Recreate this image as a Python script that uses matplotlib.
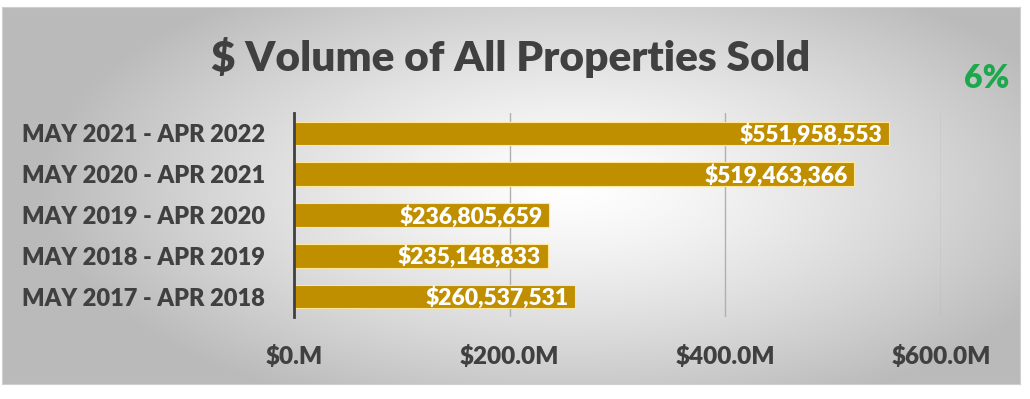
import numpy as np
import matplotlib
matplotlib.use("Agg")
import matplotlib.pyplot as plt

# data
periods = ["MAY 2017 - APR 2018", "MAY 2018 - APR 2019", "MAY 2019 - APR 2020",
           "MAY 2020 - APR 2021", "MAY 2021 - APR 2022"]
volumes = [260537531, 235148833, 236805659, 519463366, 551958553]
ticks = [0, 200e6, 400e6, 600e6]
tick_labels = ["$0.M", "$200.0M", "$400.0M", "$600.0M"]
change = "6%"

plt.rcParams['font.family'] = ['Lato', 'DejaVu Sans']
dark = "#404040"
wt = "heavy"

fig = plt.figure(figsize=(10.3, 3.99), dpi=100)
fig.patch.set_facecolor("white")

# panel with radial gradient background
bg = fig.add_axes([2 / 1030, 15 / 399, 1018 / 1030, 377 / 399])
gx, gy = np.meshgrid(np.linspace(-1, 1, 400), np.linspace(-1, 1, 160))
r = np.sqrt(((gx - 0.12) / 1.05) ** 2 + ((gy + 0.05) / 1.3) ** 2)
r = np.clip(r, 0, 1)
shade = 1 - 0.27 * r ** 1.3
bg.imshow(np.dstack([shade, shade, shade]), aspect="auto", extent=[0, 1, 0, 1])
bg.set_xlim(0, 1)
bg.set_ylim(0, 1)
for s in bg.spines.values():
    s.set_color("#D0D0D0")
bg.set_xticks([])
bg.set_yticks([])

ax = fig.add_axes([294 / 1030, 82 / 399, 647 / 1030, 204 / 399])
ax.patch.set_alpha(0)
y = np.arange(len(periods))
bars = ax.barh(y, volumes, height=0.58, color="#BF8F00", edgecolor="#FFE699",
               linewidth=0.8, zorder=3)
ax.set_xlim(0, 600e6)
ax.set_ylim(-0.5, len(periods) - 0.5)
ax.set_xticks(ticks)
ax.set_xticklabels(tick_labels)
ax.set_yticks(y)
ax.set_yticklabels(periods)
ax.tick_params(axis="x", length=0, pad=20, labelsize=17.5, labelcolor=dark)
ax.tick_params(axis="y", length=0, pad=21, labelsize=17, labelcolor=dark)
for lab in ax.get_xticklabels() + ax.get_yticklabels():
    lab.set_fontweight(wt)
ax.grid(axis="x", color="#B0B0B0", linewidth=1, zorder=0)
for s in ["top", "right", "bottom"]:
    ax.spines[s].set_visible(False)
ax.spines["left"].set_color("#404040")
ax.spines["left"].set_linewidth(2)
ax.spines["left"].set_zorder(4)

for b, v in zip(bars, volumes):
    ax.text(v - 6e6, b.get_y() + b.get_height() / 2 - 0.03, "${:,}".format(v),
            ha="right", va="center", color="white", fontsize=16.5,
            fontweight=wt, zorder=5)

fig.text(0.496, 0.857, "$ Volume of All Properties Sold", ha="center", va="center",
         fontsize=30.5, fontweight=wt, color=dark)
fig.text(0.958, 0.804, change, ha="center", va="center", fontsize=23,
         fontweight=wt, color="#1BA94C")

fig.savefig("out.png", dpi=100)
